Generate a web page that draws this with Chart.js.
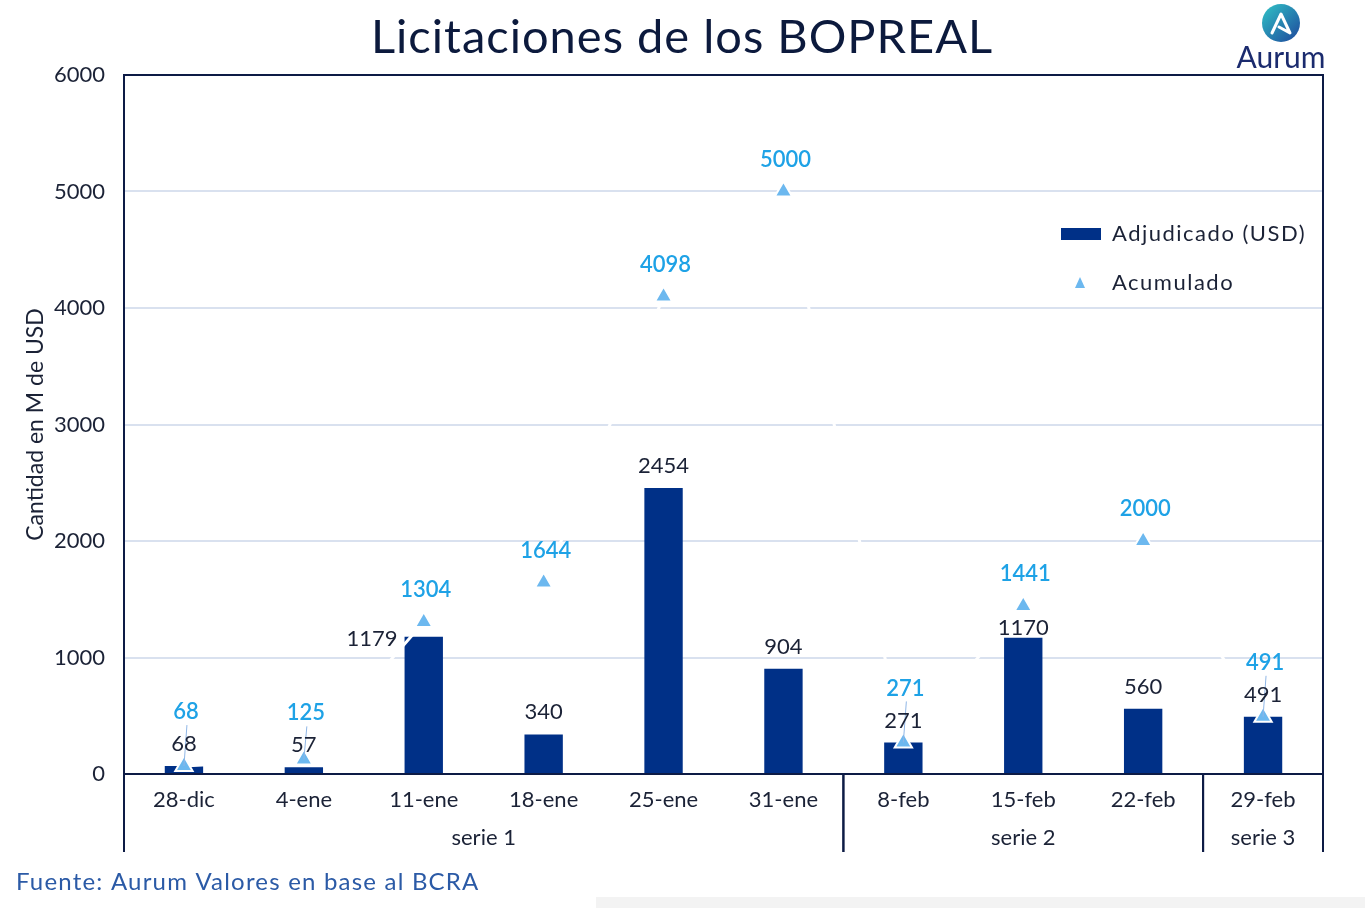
<!DOCTYPE html>
<html lang="es">
<head>
<meta charset="utf-8">
<title>Licitaciones de los BOPREAL</title>
<script src="https://cdn.jsdelivr.net/npm/chart.js@4.4.1/dist/chart.umd.min.js"></script>
<style>
    html, body { margin: 0; padding: 0; background: #ffffff; }
    #grafico-wrap { width: 1365px; height: 908px; }
</style>
</head>
<body>
<div id="grafico-wrap"><canvas id="grafico"></canvas></div>
<script>
// Datos
const fechas = ['28-dic', '4-ene', '11-ene', '18-ene', '25-ene', '31-ene', '8-feb', '15-feb', '22-feb', '29-feb'];
const adjudicado = [68, 57, 1179, 340, 2454, 904, 271, 1170, 560, 491];
const acumulado = [68, 125, 1304, 1644, 4098, 5000, 271, 1441, 2000, 491];
const series = ['serie 1', 'serie 2', 'serie 3'];
const fechasPorSerie = [6, 3, 1];

const FUENTE = 'Lato, "Noto Sans", sans-serif';
const AZUL_BARRA = '#003087';
const CELESTE = '#6cb8ef';
const CELESTE_TXT = '#1ea2e6';
const OSCURO = '#1b2236';
const MARCO = '#0d1b45';

// Etiquetas de valores (barras y acumulado)
const etiquetasPlugin = {
    id: 'etiquetas',
    afterDatasetsDraw(chart) {
        const ctx = chart.ctx;
        const barras = chart.getDatasetMeta(0).data;
        const puntos = chart.getDatasetMeta(1).data;
        ctx.save();
        ctx.textBaseline = 'middle';
        barras.forEach((barra, i) => {
            const punto = puntos[i];
            const dif = barra.y - punto.y;
            // etiqueta de la barra
            let bx = barra.x, by = barra.y - 22, alin = 'center';
            if (dif > 10 && dif < 20) { bx = barra.x - barra.width / 2 - 7; by = barra.y + 2; alin = 'right'; }
            else if (dif >= 20 && dif < 45) { by = barra.y - 10; }
            // etiqueta del acumulado
            let ay = punto.y - 32;
            const guia = dif <= 10;
            if (guia) ay = by - 32;
            if (guia) {
                ctx.strokeStyle = '#8fb6e6';
                ctx.lineWidth = 1;
                ctx.beginPath();
                ctx.moveTo(punto.x + 3, ay + 13);
                ctx.lineTo(punto.x, punto.y);
                ctx.stroke();
            }
            ctx.font = '22px ' + FUENTE;
            ctx.fillStyle = OSCURO;
            ctx.textAlign = alin;
            ctx.fillText(String(adjudicado[i]), bx, by);
            ctx.font = '600 22px ' + FUENTE;
            ctx.fillStyle = CELESTE_TXT;
            ctx.textAlign = 'center';
            ctx.fillText(String(acumulado[i]), punto.x + 2, ay);
        });
        ctx.restore();
    }
};

// Marco, series agrupadas, leyenda, título y logo
const decoracionPlugin = {
    id: 'decoracion',
    afterDraw(chart) {
        const ctx = chart.ctx;
        const area = chart.chartArea;
        const x = chart.scales.x;
        const mitad = (x.right - x.left) / fechas.length / 2;
        const abajo = area.bottom + 78;
        ctx.save();

        // marco del área
        ctx.strokeStyle = MARCO;
        ctx.lineWidth = 2;
        ctx.beginPath();
        ctx.moveTo(area.left, area.top);
        ctx.lineTo(area.right, area.top);
        ctx.lineTo(area.right, area.bottom);
        ctx.stroke();

        // grupos de series
        let inicio = 0;
        ctx.font = '22px ' + FUENTE;
        ctx.fillStyle = OSCURO;
        ctx.textAlign = 'center';
        ctx.textBaseline = 'middle';
        ctx.lineWidth = 2;
        series.forEach((s, k) => {
            const fin = inicio + fechasPorSerie[k] - 1;
            const x0 = x.getPixelForValue(inicio) - mitad;
            const x1 = x.getPixelForValue(fin) + mitad;
            ctx.beginPath();
            ctx.moveTo(x0, area.bottom);
            ctx.lineTo(x0, abajo);
            ctx.moveTo(x1, area.bottom);
            ctx.lineTo(x1, abajo);
            ctx.stroke();
            ctx.fillText(s, (x0 + x1) / 2, area.bottom + 64);
            inicio = fin + 1;
        });

        // leyenda
        const lx = area.right - 262;
        const ly = area.top + 159;
        ctx.fillStyle = AZUL_BARRA;
        ctx.fillRect(lx, ly - 6, 40, 12);
        ctx.fillStyle = CELESTE;
        ctx.beginPath();
        ctx.moveTo(lx + 19, ly + 43);
        ctx.lineTo(lx + 24, ly + 54);
        ctx.lineTo(lx + 14, ly + 54);
        ctx.closePath();
        ctx.fill();
        ctx.fillStyle = OSCURO;
        ctx.textAlign = 'left';
        ctx.letterSpacing = '1.5px';
        ctx.fillText(chart.data.datasets[0].label, lx + 51, ly);
        ctx.fillText(chart.data.datasets[1].label, lx + 51, ly + 49);

        // título
        ctx.font = '47px ' + FUENTE;
        ctx.letterSpacing = '1px';
        ctx.fillStyle = '#0c1a3d';
        ctx.textAlign = 'center';
        ctx.fillText('Licitaciones de los BOPREAL', 682, 38);

        // fuente
        ctx.font = '24px ' + FUENTE;
        ctx.letterSpacing = '1.2px';
        ctx.fillStyle = '#2b5aa6';
        ctx.textAlign = 'left';
        ctx.fillText('Fuente: Aurum Valores en base al BCRA', 16, 882);
        ctx.letterSpacing = '0px';

        // logo Aurum
        const g = ctx.createLinearGradient(1265, 6, 1298, 40);
        g.addColorStop(0, '#2fbcc4');
        g.addColorStop(1, '#1f4d9e');
        ctx.fillStyle = g;
        ctx.beginPath();
        ctx.arc(1281, 23, 19, 0, Math.PI * 2);
        ctx.fill();
        ctx.strokeStyle = '#ffffff';
        ctx.lineWidth = 3;
        ctx.lineJoin = 'round';
        ctx.lineCap = 'round';
        ctx.beginPath();
        ctx.moveTo(1272, 33);
        ctx.lineTo(1281, 14);
        ctx.lineTo(1290, 33);
        ctx.lineTo(1279, 27);
        ctx.stroke();
        ctx.font = '30px ' + FUENTE;
        ctx.fillStyle = '#1b2b6e';
        ctx.textAlign = 'center';
        ctx.fillText('Aurum', 1281, 58);

        // franja gris inferior
        ctx.fillStyle = '#f3f3f3';
        ctx.fillRect(596, 897, 769, 11);
        ctx.restore();
    }
};

const ctx = document.getElementById('grafico').getContext('2d');
new Chart(ctx, {
    data: {
        labels: fechas,
        datasets: [
            {
                type: 'bar',
                label: 'Adjudicado (USD)',
                data: adjudicado,
                backgroundColor: AZUL_BARRA,
                barPercentage: 0.32,
                categoryPercentage: 1,
                order: 2
            },
            {
                type: 'line',
                label: 'Acumulado',
                data: acumulado,
                borderColor: '#ffffff',
                borderWidth: 3,
                pointStyle: 'triangle',
                pointRadius: 10,
                pointBackgroundColor: CELESTE,
                pointBorderColor: '#ffffff',
                pointBorderWidth: 2,
                order: 1
            }
        ]
    },
    options: {
        responsive: true,
        maintainAspectRatio: false,
        animation: false,
        layout: { padding: { top: 75, right: 42, bottom: 0, left: 0 } },
        plugins: {
            legend: { display: false },
            tooltip: { enabled: false }
        },
        scales: {
            x: {
                grid: { display: false },
                border: { color: MARCO, width: 2 },
                ticks: { color: OSCURO, font: { family: FUENTE, size: 22 }, padding: 5 },
                afterFit: (scale) => { scale.height = 134; }
            },
            y: {
                min: 0,
                max: 6000,
                ticks: {
                    stepSize: 1000,
                    color: OSCURO,
                    font: { family: FUENTE, size: 22 },
                    padding: 19,
                    callback: (v) => String(v)
                },
                grid: { color: '#d9e1ef', lineWidth: 2, drawTicks: false },
                border: { color: MARCO, width: 2 },
                title: {
                    display: true,
                    text: 'Cantidad en M de USD',
                    color: OSCURO,
                    font: { family: FUENTE, size: 23 },
                    padding: { top: 22, bottom: 0 }
                },
                afterFit: (scale) => { scale.width = 124; }
            }
        }
    },
    plugins: [etiquetasPlugin, decoracionPlugin]
});
</script>
</body>
</html>
